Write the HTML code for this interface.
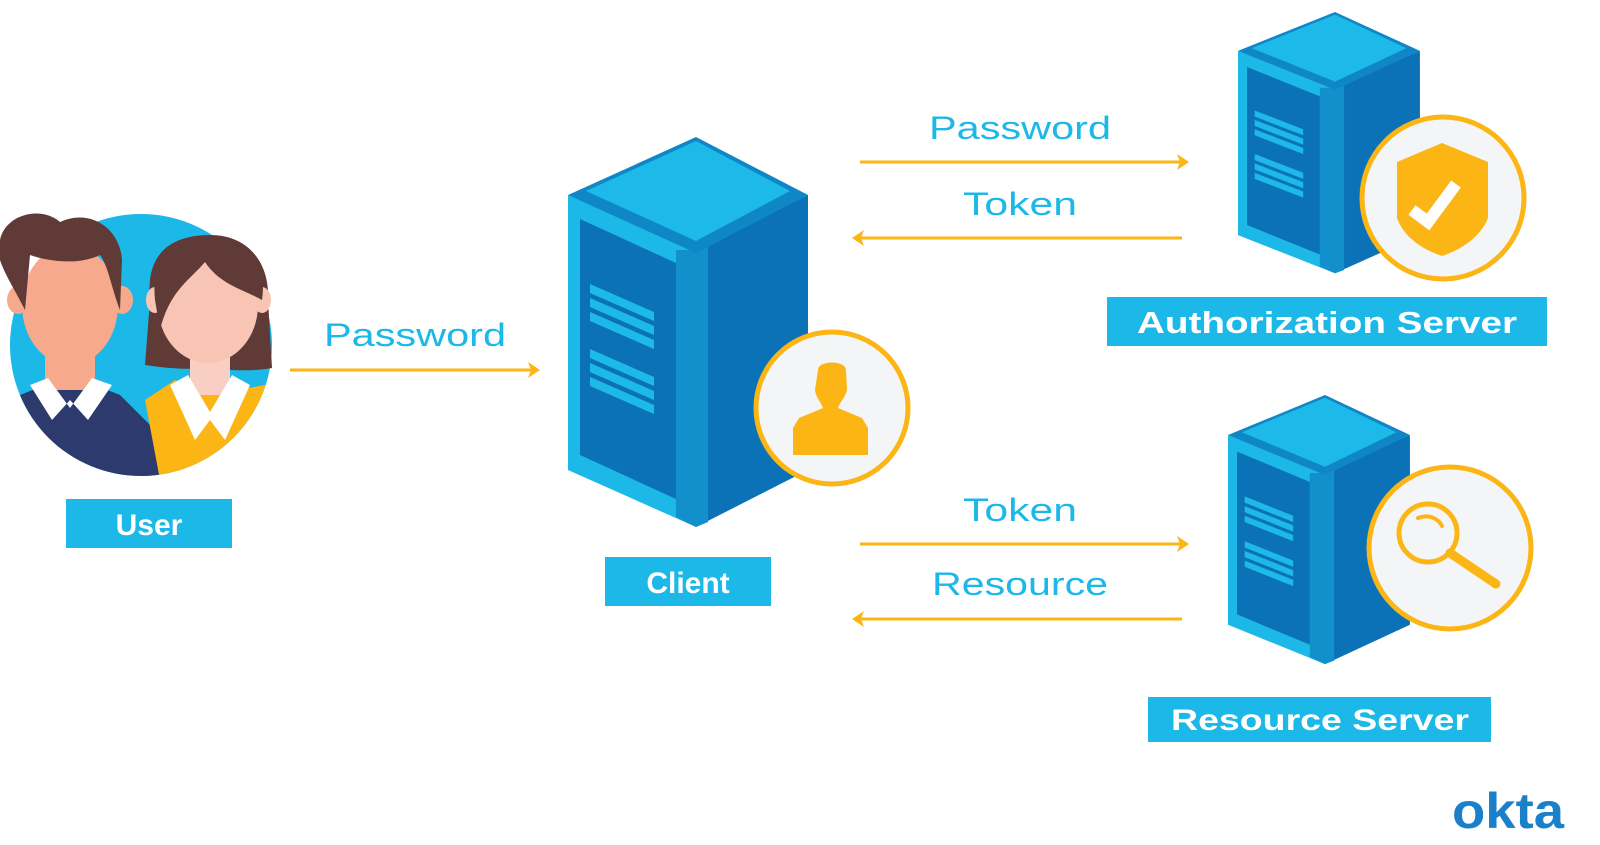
<!DOCTYPE html>
<html><head><meta charset="utf-8"><style>
html,body{margin:0;padding:0;background:#fff;}
svg{display:block;}
text{font-family:"Liberation Sans",sans-serif;font-weight:bold;}
</style></head><body>
<svg width="1600" height="845" viewBox="0 0 1600 845" xmlns="http://www.w3.org/2000/svg">
<defs>
<g id="srv">
  <polygon points="0,58 128,113 128,390 0,333" fill="#1cb8e8"/>
  <polygon points="12,82 108,126 108,362 12,318" fill="#0b72b8"/>
  <polygon points="108,113 128,113 128,390 108,380" fill="#1190cc"/>
  <polygon points="128,113 240,58 240,333 128,390" fill="#0b72b8"/>
  <polygon points="128,113 140,107 140,385 128,390" fill="#1190cc"/>
  <polygon points="0,58 128,0 240,58 128,116" fill="#0f86c6"/>
  <polygon points="18,54 128,4 222,54 128,104" fill="#1db9e8"/>
  <g fill="#1db9e8">
    <polygon points="22,147 86,175 86,184 22,156"/>
    <polygon points="22,161 86,189 86,198 22,170"/>
    <polygon points="22,175 86,203 86,212 22,184"/>
    <polygon points="22,212 86,240 86,249 22,221"/>
    <polygon points="22,226 86,254 86,263 22,235"/>
    <polygon points="22,240 86,268 86,277 22,249"/>
  </g>
</g>
<clipPath id="uc"><circle cx="141" cy="345" r="131"/></clipPath>
</defs>

<!-- User -->
<circle cx="141" cy="345" r="131" fill="#1cb8e8"/>
<g clip-path="url(#uc)">
  <path d="M20,395 L70,375 L120,395 L155,430 L160,480 L10,480 Z" fill="#2c3a6e"/>
  <path d="M145,400 L175,380 L210,395 L265,385 L280,480 L160,480 Z" fill="#fbb515"/>
</g>
<!-- man -->
<rect x="45" y="350" width="50" height="40" fill="#f6a98c"/>
<path d="M30,385 L48,378 L70,408 L92,378 L112,385 L88,420 L70,400 L52,420 Z" fill="#fff"/>
<ellipse cx="18" cy="300" rx="11" ry="14" fill="#f6a98c"/>
<ellipse cx="122" cy="300" rx="11" ry="14" fill="#f6a98c"/>
<ellipse cx="70" cy="305" rx="48" ry="60" fill="#f6a98c"/>
<path d="M0,240 C5,215 40,205 60,222 C90,208 120,228 122,260 L120,310 C112,290 108,265 100,255 C80,265 50,262 30,255 L25,310 C15,290 5,275 0,260 Z" fill="#5f3a37"/>
<!-- woman -->
<path d="M150,300 C145,250 175,235 210,235 C250,235 270,265 268,300 L272,368 C250,372 225,370 210,368 C185,370 165,368 145,365 Z" fill="#5f3a37"/>
<rect x="190" y="355" width="40" height="40" fill="#f8cfc2"/>
<path d="M170,385 L188,375 L210,412 L232,375 L250,385 L225,440 L210,420 L195,440 Z" fill="#fff"/>
<ellipse cx="155" cy="300" rx="9" ry="13" fill="#f8c5b4"/>
<ellipse cx="262" cy="300" rx="9" ry="13" fill="#f8c5b4"/>
<ellipse cx="208" cy="305" rx="50" ry="58" fill="#f8c5b4"/>
<path d="M155,300 C150,250 180,238 210,240 C245,240 268,260 262,300 C245,290 220,285 205,262 C190,280 170,290 160,330 Z" fill="#5f3a37"/>

<rect x="66" y="499" width="166" height="49" fill="#1cb8e8"/>
<text x="149" y="535" font-size="30" fill="#fff" text-anchor="middle">User</text>

<!-- Servers -->
<use href="#srv" transform="translate(568,137)"/>
<use href="#srv" transform="translate(1238,12) scale(0.758,0.67)"/>
<use href="#srv" transform="translate(1228,395) scale(0.758,0.69)"/>

<!-- Client badge -->
<circle cx="832" cy="408" r="76" fill="#f4f5f6" stroke="#fbb515" stroke-width="5"/>
<path d="M818,370 C818,360 846,360 846,370 L847,390 C845,398 840,402 838,408 L862,418 L868,428 L868,455 L793,455 L793,428 L799,418 L823,408 C821,402 816,398 815,390 Z" fill="#fbb515"/>
<rect x="605" y="557" width="166" height="49" fill="#1cb8e8"/>
<text x="688" y="593" font-size="30" fill="#fff" text-anchor="middle">Client</text>

<!-- Auth badge -->
<circle cx="1443" cy="198" r="81" fill="#f4f5f6" stroke="#fbb515" stroke-width="5"/>
<path d="M1397,162 L1442,143 L1488,162 L1488,218 C1480,238 1460,250 1442,256 C1424,250 1404,238 1397,218 Z" fill="#fbb515"/>
<polyline points="1412,210 1428,222 1456,184" fill="none" stroke="#fff" stroke-width="12"/>
<rect x="1107" y="297" width="440" height="49" fill="#1cb8e8"/>
<text x="1327" y="333" font-size="31" fill="#fff" text-anchor="middle" textLength="380" lengthAdjust="spacingAndGlyphs">Authorization Server</text>

<!-- Resource badge -->
<circle cx="1450" cy="548" r="81" fill="#f4f5f6" stroke="#fbb515" stroke-width="5"/>
<circle cx="1428" cy="533" r="29" fill="none" stroke="#fbb515" stroke-width="5"/>
<path d="M1418,518 C1428,514 1438,518 1442,526" fill="none" stroke="#fbb515" stroke-width="4" stroke-linecap="round"/>
<line x1="1450" y1="553" x2="1496" y2="584" stroke="#fbb515" stroke-width="9" stroke-linecap="round"/>
<rect x="1148" y="697" width="343" height="45" fill="#1cb8e8"/>
<text x="1320" y="730" font-size="30" fill="#fff" text-anchor="middle" textLength="298" lengthAdjust="spacingAndGlyphs">Resource Server</text>

<!-- Arrows -->
<g stroke="#fbb515" stroke-width="3" fill="none">
  <line x1="290" y1="370" x2="532" y2="370"/>
  <line x1="860" y1="162" x2="1181" y2="162"/>
  <line x1="859" y1="238" x2="1182" y2="238"/>
  <line x1="860" y1="544" x2="1181" y2="544"/>
  <line x1="859" y1="619" x2="1182" y2="619"/>
</g>
<g fill="#fbb515">
  <polygon points="540,370 528,362 531,370 528,378"/>
  <polygon points="1189,162 1177,154 1180,162 1177,170"/>
  <polygon points="852,238 864,230 861,238 864,246"/>
  <polygon points="1189,544 1177,536 1180,544 1177,552"/>
  <polygon points="852,619 864,611 861,619 864,627"/>
</g>
<g fill="#1cb8e8" font-size="32" text-anchor="middle">
  <text x="415" y="346" textLength="182" lengthAdjust="spacingAndGlyphs" style="font-weight:normal">Password</text>
  <text x="1020" y="139" textLength="182" lengthAdjust="spacingAndGlyphs" style="font-weight:normal">Password</text>
  <text x="1020" y="215" textLength="114" lengthAdjust="spacingAndGlyphs" style="font-weight:normal">Token</text>
  <text x="1020" y="521" textLength="114" lengthAdjust="spacingAndGlyphs" style="font-weight:normal">Token</text>
  <text x="1020" y="595" textLength="176" lengthAdjust="spacingAndGlyphs" style="font-weight:normal">Resource</text>
</g>

<text x="1452" y="828" font-size="50" fill="#1a80c9" textLength="112" lengthAdjust="spacingAndGlyphs">okta</text>
</svg>
</body></html>
